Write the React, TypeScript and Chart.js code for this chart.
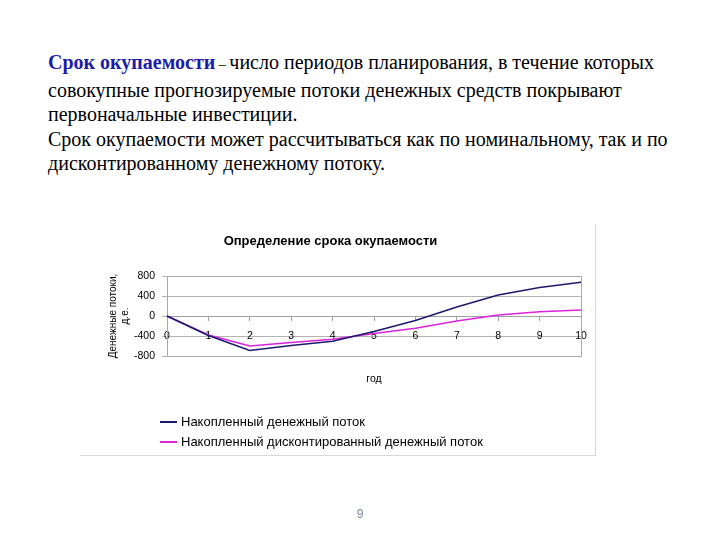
import React, { useEffect, useRef } from "react";
import { Chart, registerables } from "chart.js";

Chart.register(...registerables);

const years = ["0", "1", "2", "3", "4", "5", "6", "7", "8", "9", "10"];
const cumulative = [0, -390, -690, -590, -505, -310, -90, 180, 420, 570, 675];
const discounted = [0, -380, -600, -530, -465, -350, -245, -100, 20, 85, 120];
const yTickValues = [-800, -400, 0, 400, 800];
const seriesNames = [
  "Накопленный денежный поток",
  "Накопленный дисконтированный денежный поток",
];
const seriesColors = ["#1b1b6e", "#dd22dd"];

const SANS = '"Liberation Sans", Arial, sans-serif';
const SERIF = '"Liberation Serif", "Times New Roman", serif';

const framePlugin = {
  id: "frame",
  beforeDatasetsDraw(chart: any) {
    const { ctx, chartArea } = chart;
    ctx.save();
    ctx.strokeStyle = "#a8a8a8";
    ctx.lineWidth = 1;
    ctx.strokeRect(
      Math.round(chartArea.left) + 0.5,
      Math.round(chartArea.top) + 0.5,
      Math.round(chartArea.right - chartArea.left),
      Math.round(chartArea.bottom - chartArea.top)
    );
    ctx.restore();
  },
};

function PaybackChart() {
  const ref = useRef<HTMLCanvasElement | null>(null);
  useEffect(() => {
    if (!ref.current) return;
    const chart = new Chart(ref.current, {
      type: "line",
      data: {
        labels: years,
        datasets: [
          {
            label: seriesNames[0],
            data: cumulative,
            borderColor: seriesColors[0],
            backgroundColor: seriesColors[0],
            borderWidth: 1.6,
            pointRadius: 0,
            tension: 0,
            fill: false,
          },
          {
            label: seriesNames[1],
            data: discounted,
            borderColor: seriesColors[1],
            backgroundColor: seriesColors[1],
            borderWidth: 1.6,
            pointRadius: 0,
            tension: 0,
            fill: false,
          },
        ],
      },
      options: {
        animation: false,
        responsive: false,
        layout: { padding: { left: 0, right: 15, top: 0, bottom: 69 } },
        plugins: {
          legend: { display: false },
          tooltip: { enabled: false },
          title: {
            display: true,
            text: "Определение срока окупаемости",
            color: "#000",
            font: { family: SANS, size: 13, weight: "bold" },
            padding: { top: 12, bottom: 26.4 },
          },
        },
        scales: {
          x: {
            type: "category",
            position: { y: 0 } as any,
            offset: false,
            grid: {
              drawOnChartArea: false,
              drawTicks: true,
              tickLength: 4,
              color: "#a0a0a0",
            },
            border: { color: "#a0a0a0" },
            ticks: {
              color: "#000",
              font: { family: SANS, size: 10.5 },
              padding: 10,
              maxRotation: 0,
              autoSkip: false,
            },
            title: {
              display: true,
              text: "год",
              color: "#000",
              font: { family: SANS, size: 10.5 },
              padding: { top: 0, bottom: 0 },
            },
            afterFit: (s: any) => {
              s.height = 69;
              s.paddingLeft = 0;
              s.paddingRight = 0;
            },
          },
          y: {
            min: -800,
            max: 800,
            afterBuildTicks: (s: any) => {
              s.ticks = yTickValues.map((v) => ({ value: v }));
            },
            grid: { color: "#b4b4b4", tickLength: 5 },
            border: { color: "#a0a0a0" },
            ticks: {
              color: "#000",
              font: { family: SANS, size: 10.5 },
              padding: 7,
            },
            title: {
              display: true,
              text: ["Денежные потоки,", "д.е."],
              color: "#000",
              font: { family: SANS, size: 10 },
              padding: { top: 27, bottom: 0 },
            },
            afterFit: (s: any) => {
              s.width = 87;
              s.paddingTop = 0;
              s.paddingBottom = 0;
            },
          },
        },
      } as any,
      plugins: [framePlugin],
    });
    return () => chart.destroy();
  }, []);

  return (
    <canvas
      ref={ref}
      width={516}
      height={203}
      style={{ position: "absolute", left: 80, top: 222, width: 516, height: 203 }}
    />
  );
}

export default function App() {
  const lineStyle: React.CSSProperties = { whiteSpace: "nowrap" };
  return (
    <div
      style={{
        position: "absolute",
        left: 0,
        top: 0,
        width: 720,
        height: 540,
        background: "#fff",
        overflow: "hidden",
      }}
    >
      <div
        style={{
          position: "absolute",
          left: 48,
          top: 50,
          fontFamily: SERIF,
          fontSize: 20,
          lineHeight: "24.6px",
          color: "#000",
        }}
      >
        <div style={lineStyle}>
          <span style={{ fontWeight: "bold", color: "#1c1ca8" }}>Срок окупаемости</span>
          <span style={{ fontSize: 14 }}> – </span>
          число периодов планирования, в течение которых
        </div>
        <div style={lineStyle}>совокупные прогнозируемые потоки денежных средств покрывают</div>
        <div style={lineStyle}>первоначальные инвестиции.</div>
        <div style={lineStyle}>Срок окупаемости может рассчитываться как по номинальному, так и по</div>
        <div style={lineStyle}>дисконтированному денежному потоку.</div>
      </div>

      <div
        style={{
          position: "absolute",
          left: 80,
          top: 224,
          width: 515,
          height: 231,
          borderRight: "1px solid #d8d8d8",
          borderBottom: "1px solid #d8d8d8",
        }}
      />
      <PaybackChart />

      {seriesNames.map((name, i) => (
        <div key={name}>
          <div
            style={{
              position: "absolute",
              left: 160,
              top: 421 + i * 20,
              width: 17,
              height: 2,
              background: seriesColors[i],
            }}
          />
          <div
            style={{
              position: "absolute",
              left: 181,
              top: 414 + i * 20,
              fontFamily: SANS,
              fontSize: 13,
              lineHeight: "16px",
              color: "#000",
              whiteSpace: "nowrap",
            }}
          >
            {name}
          </div>
        </div>
      ))}

      <div
        style={{
          position: "absolute",
          left: 340,
          width: 40,
          top: 507,
          textAlign: "center",
          fontFamily: SANS,
          fontSize: 12,
          color: "#8a8a8a",
        }}
      >
        9
      </div>
    </div>
  );
}
